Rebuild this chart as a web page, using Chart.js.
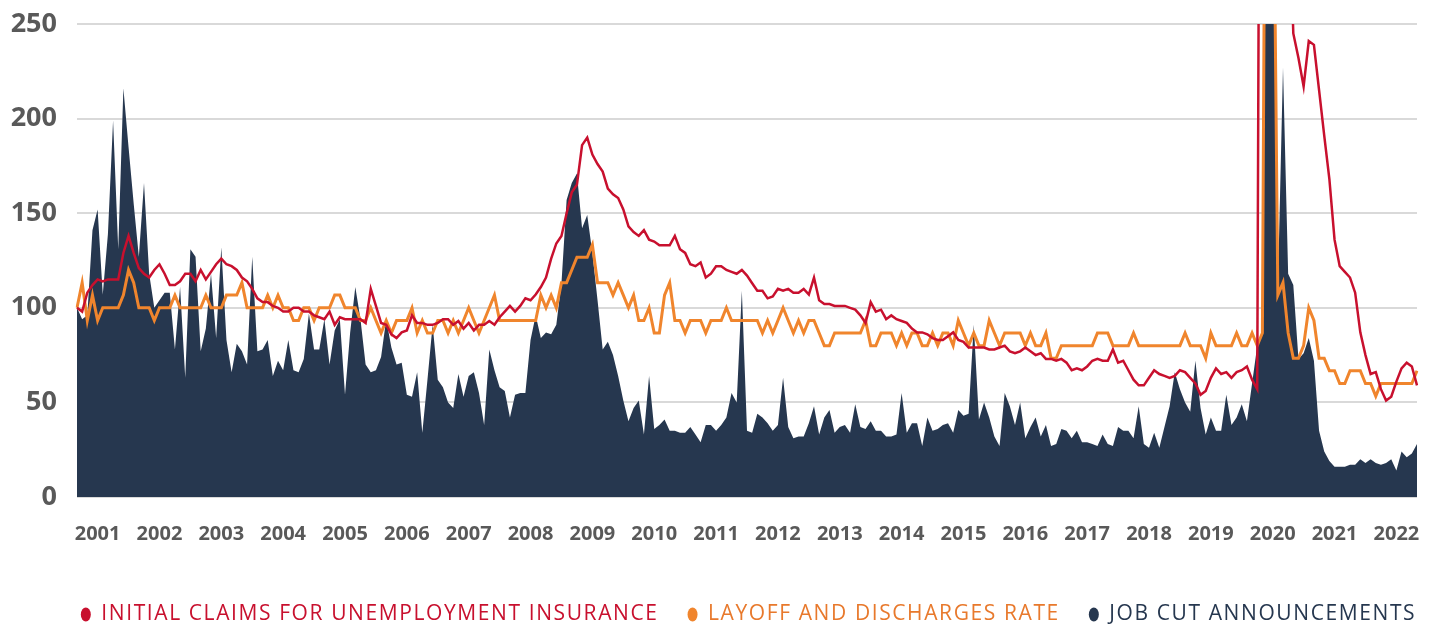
<!DOCTYPE html>
<html>
<head>
<meta charset="utf-8">
<title>Layoff indicators, 2001-2022</title>
<script src="https://cdn.jsdelivr.net/npm/chart.js@4.4.1/dist/chart.umd.min.js"></script>
<style>
  html, body { margin: 0; padding: 0; background: #fff; }
  #wrap { width: 1437px; height: 624px; }
</style>
</head>
<body>
<div id="wrap"><canvas id="chart" width="1437" height="624"></canvas></div>
<script>
// monthly series, Jan 2001 .. Sep 2022 (index, 2001 = 100)
const startYear = 2001;
const yearLabels = ['2001', '2002', '2003', '2004', '2005', '2006', '2007', '2008', '2009', '2010', '2011',
  '2012', '2013', '2014', '2015', '2016', '2017', '2018', '2019', '2020', '2021', '2022'];

const initialClaims = [
  100, 98, 108, 112, 115, 114, 115, 115, 115, 129, 138, 129,
  121, 118, 116, 120, 123, 118, 112, 112, 114, 118, 118, 114,
  120, 115, 119, 123, 126, 123, 122, 120, 116, 114, 110, 105,
  103, 103, 101, 100, 98, 98, 100, 100, 98, 98, 96, 95,
  94, 98, 91, 95, 94, 94, 94, 94, 92, 110, 101, 92,
  91, 86, 84, 87, 88, 96, 92, 92, 91, 91, 92, 94,
  94, 91, 93, 89, 92, 88, 91, 91, 93, 91, 95, 98,
  101, 98, 101, 105, 104, 107, 111, 116, 126, 134, 138, 150,
  161, 165, 186, 190, 181, 176, 172, 163, 160, 158, 152, 143,
  140, 138, 141, 136, 135, 133, 133, 133, 138, 131, 129, 123,
  122, 124, 116, 118, 122, 122, 120, 119, 118, 120, 117, 113,
  109, 109, 105, 106, 110, 109, 110, 108, 108, 110, 107, 116,
  104, 102, 102, 101, 101, 101, 100, 99, 96, 92, 103, 98,
  99, 94, 96, 94, 93, 92, 89, 87, 87, 86, 84, 83,
  83, 85, 87, 83, 82, 79, 79, 79, 79, 78, 78, 79,
  80, 77, 76, 77, 79, 77, 75, 76, 73, 73, 72, 73,
  71, 67, 68, 67, 69, 72, 73, 72, 72, 78, 71, 72,
  67, 62, 59, 59, 63, 67, 65, 64, 63, 64, 67, 66,
  63, 60, 54, 56, 63, 68, 65, 66, 63, 66, 67, 69,
  62, 57, 800, 1500, 800, 480, 420, 330, 245, 232, 217, 241,
  239, 215, 191, 168, 136, 122, 119, 116, 108, 87, 75, 65,
  66, 57, 51, 53, 61, 68, 71, 69, 59
];

const layoffRate = [
  100, 113.3, 93.3, 106.7, 93.3, 100, 100, 100, 100, 106.7, 120, 113.3,
  100, 100, 100, 93.3, 100, 100, 100, 106.7, 100, 100, 100, 100,
  100, 106.7, 100, 100, 100, 106.7, 106.7, 106.7, 113.3, 100, 100, 100,
  100, 106.7, 100, 106.7, 100, 100, 93.3, 93.3, 100, 100, 93.3, 100,
  100, 100, 106.7, 106.7, 100, 100, 100, 93.3, 93.3, 100, 93.3, 86.7,
  93.3, 86.7, 93.3, 93.3, 93.3, 100, 86.7, 93.3, 86.7, 86.7, 93.3, 93.3,
  86.7, 93.3, 86.7, 93.3, 100, 93.3, 86.7, 93.3, 100, 106.7, 93.3, 93.3,
  93.3, 93.3, 93.3, 93.3, 93.3, 93.3, 106.7, 100, 106.7, 100, 113.3, 113.3,
  120, 126.7, 126.7, 126.7, 133.3, 113.3, 113.3, 113.3, 106.7, 113.3, 106.7, 100,
  106.7, 93.3, 93.3, 100, 86.7, 86.7, 106.7, 113.3, 93.3, 93.3, 86.7, 93.3,
  93.3, 93.3, 86.7, 93.3, 93.3, 93.3, 100, 93.3, 93.3, 93.3, 93.3, 93.3,
  93.3, 86.7, 93.3, 86.7, 93.3, 100, 93.3, 86.7, 93.3, 86.7, 93.3, 93.3,
  86.7, 80, 80, 86.7, 86.7, 86.7, 86.7, 86.7, 86.7, 93.3, 80, 80,
  86.7, 86.7, 86.7, 80, 86.7, 80, 86.7, 86.7, 80, 80, 86.7, 80,
  86.7, 86.7, 80, 93.3, 86.7, 80, 86.7, 80, 80, 93.3, 86.7, 80,
  86.7, 86.7, 86.7, 86.7, 80, 86.7, 80, 80, 86.7, 73.3, 73.3, 80,
  80, 80, 80, 80, 80, 80, 86.7, 86.7, 86.7, 80, 80, 80,
  80, 86.7, 80, 80, 80, 80, 80, 80, 80, 80, 80, 86.7,
  80, 80, 80, 73.3, 86.7, 80, 80, 80, 80, 86.7, 80, 80,
  86.7, 80, 86.7, 600, 385, 106.7, 113.3, 86.7, 73.3, 73.3, 80, 100,
  93.3, 73.3, 73.3, 66.7, 66.7, 60, 60, 66.7, 66.7, 66.7, 60, 60,
  53.3, 60, 60, 60, 60, 60, 60, 60, 66.7
];

const jobCuts = [
  100, 94, 96, 141, 152, 107, 139, 199, 131, 216, 185, 155,
  127, 166, 118, 100, 104, 108, 108, 78, 111, 63, 131, 127,
  77, 89, 118, 84, 132, 83, 66, 81, 77, 70, 127, 77,
  78, 83, 64, 72, 67, 83, 67, 66, 73, 97, 78, 78,
  94, 70, 88, 94, 54, 87, 111, 94, 70, 66, 67, 74,
  94, 79, 70, 71, 54, 53, 66, 34, 62, 91, 62, 58,
  50, 47, 65, 53, 64, 66, 55, 38, 78, 67, 58, 56,
  42, 54, 55, 55, 83, 96, 84, 87, 86, 91, 113, 157,
  166, 171, 142, 149, 129, 104, 78, 82, 75, 64, 51, 40,
  47, 51, 33, 64, 36, 38, 41, 35, 35, 34, 34, 37,
  33, 29, 38, 38, 35, 38, 42, 55, 50, 109, 35, 34,
  44, 42, 39, 35, 38, 63, 37, 31, 32, 32, 39, 48,
  33, 42, 46, 34, 37, 38, 34, 49, 37, 36, 40, 35,
  35, 32, 32, 33, 55, 34, 39, 39, 27, 42, 35, 36,
  38, 39, 34, 46, 43, 44, 91, 41, 50, 42, 32, 27,
  55, 48, 38, 50, 31, 37, 42, 32, 38, 27, 28, 36,
  35, 31, 35, 29, 29, 28, 27, 33, 28, 27, 37, 35,
  35, 31, 48, 28, 26, 34, 26, 37, 48, 66, 57, 50,
  45, 72, 47, 33, 42, 35, 35, 54, 38, 42, 49, 40,
  60, 80, 86, 620, 400, 110, 227, 118, 112, 73, 76, 84,
  72, 35, 24, 19, 16, 16, 16, 17, 17, 20, 18, 20,
  18, 17, 18, 20, 14, 24, 21, 23, 28
];

const seriesNames = ['INITIAL CLAIMS FOR UNEMPLOYMENT INSURANCE', 'LAYOFF AND DISCHARGES RATE', 'JOB CUT ANNOUNCEMENTS'];
const seriesColors = ['#C8102E', '#F0852D', '#26374F'];
const legendTextColors = ['#C8102E', '#E8792C', '#26374F'];
const yMin = 0;
const yMax = 250;
const yStep = 50;

const months = initialClaims.map((_, i) => {
  const y = startYear + Math.floor(i / 12);
  const m = (i % 12) + 1;
  return y + '-' + String(m).padStart(2, '0');
});

const textGrey = '#595959';
const legendSpacing = '1.6px';
const legendHeight = 49;
const legendShift = 40;

// letter spacing + small right shift for the legend (ctx supports it, Chart.js has no option)
const legendTweak = {
  id: 'legendTweak',
  beforeUpdate(chart) {
    const lg = chart.legend;
    if (!lg || lg._tweaked) return;
    lg._tweaked = true;
    const fit = lg.fit;
    const draw = lg.draw;
    lg.fit = function () {
      const mw = this.maxWidth;
      this.ctx.save();
      this.ctx.letterSpacing = legendSpacing;
      this.maxWidth = 5000;
      fit.call(this);
      this.ctx.restore();
      this.maxWidth = mw;
      this.width = mw;
      this.height = legendHeight;
    };
    lg.draw = function () {
      this.ctx.save();
      this.ctx.letterSpacing = legendSpacing;
      this.left += legendShift;
      this.right += legendShift;
      draw.call(this);
      this.left -= legendShift;
      this.right -= legendShift;
      this.ctx.restore();
    };
  }
};

Chart.defaults.font.family = "'Open Sans', sans-serif";

const ctx = document.getElementById('chart').getContext('2d');
new Chart(ctx, {
  type: 'line',
  data: {
    labels: months,
    datasets: [
      {
        label: seriesNames[0],
        data: initialClaims,
        borderColor: seriesColors[0],
        backgroundColor: seriesColors[0],
        borderWidth: 2.5,
        pointRadius: 0,
        fill: false,
        tension: 0
      },
      {
        label: seriesNames[1],
        data: layoffRate,
        borderColor: seriesColors[1],
        backgroundColor: seriesColors[1],
        borderWidth: 3,
        pointRadius: 0,
        fill: false,
        tension: 0
      },
      {
        label: seriesNames[2],
        data: jobCuts,
        borderColor: seriesColors[2],
        backgroundColor: seriesColors[2],
        borderWidth: 0,
        pointRadius: 0,
        fill: 'origin',
        tension: 0
      }
    ]
  },
  options: {
    responsive: false,
    animation: false,
    devicePixelRatio: 1,
    events: [],
    layout: { padding: { top: 24, right: 20, left: 0, bottom: 0 } },
    scales: {
      x: {
        grid: { display: false },
        border: { display: false },
        ticks: {
          autoSkip: false,
          maxRotation: 0,
          minRotation: 0,
          padding: 17,
          color: textGrey,
          font: { size: 20, weight: 'bold' },
          callback: (val, idx) => (idx % 12 === 4 ? yearLabels[Math.floor(idx / 12)] : '')
        },
        afterFit: (scale) => { scale.height = 78; }
      },
      y: {
        min: yMin,
        max: yMax,
        grid: { color: '#D9D9D9', lineWidth: 2, drawTicks: false },
        border: { display: false },
        ticks: {
          stepSize: yStep,
          padding: 20,
          color: textGrey,
          font: { size: 27, weight: 'bold' }
        },
        afterFit: (scale) => {
          scale.width = 77;
          scale.paddingTop = 0;
          scale.paddingBottom = 0;
        }
      }
    },
    plugins: {
      tooltip: { enabled: false },
      legend: {
        position: 'bottom',
        labels: {
          usePointStyle: true,
          pointStyle: 'circle',
          pointStyleWidth: 10,
          boxHeight: 10,
          padding: 29,
          font: { size: 21, weight: '500' },
          generateLabels: (chart) => chart.data.datasets.map((ds, i) => ({
            text: ds.label,
            fillStyle: seriesColors[i],
            strokeStyle: seriesColors[i],
            fontColor: legendTextColors[i],
            lineWidth: 0,
            pointStyle: 'circle',
            hidden: false,
            datasetIndex: i
          }))
        }
      }
    }
  },
  plugins: [legendTweak]
});
</script>
</body>
</html>
